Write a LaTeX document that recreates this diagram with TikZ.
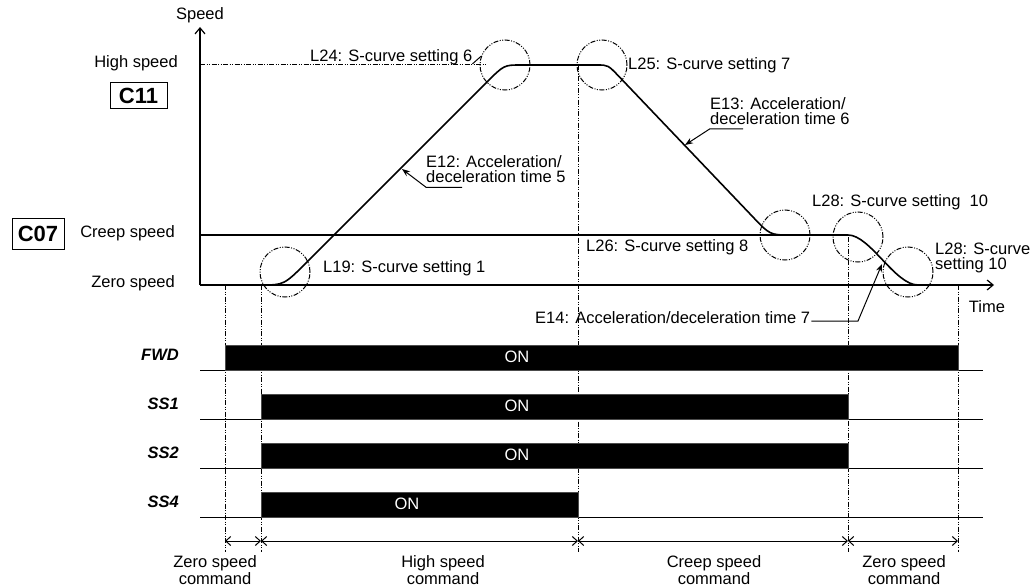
\documentclass[tikz,border=0pt]{standalone}
\usepackage{fontspec}
\setmainfont{Liberation Sans}
\usetikzlibrary{arrows.meta}
\begin{document}
\begin{tikzpicture}[x=1pt,y=-1pt,
  txt/.style={inner sep=0pt, font=\fontsize{16.5}{15}\selectfont},
  dd/.style={line width=1pt, dash pattern=on 5pt off 1.5pt on 1pt off 1.5pt on 1pt off 1.5pt},
  ax/.style={line width=1.2pt},
  bar/.style={fill=black, draw=black!70, line width=0.5pt},
  onlbl/.style={txt, text=white},
  sig/.style={inner sep=0pt, font=\fontsize{16.5}{15}\selectfont\bfseries\itshape, anchor=east},
  circ/.style={circle, draw, dd, minimum size=50pt, inner sep=0pt},
  lead/.style={line width=1pt},
  leadarrow/.style={lead, -{Stealth[length=8pt,width=6pt]}},
  dimline/.style={line width=1pt, {Straight Barb[length=5pt,width=9pt]}-{Straight Barb[length=5pt,width=9pt]}},
  axarrow/.style={ax, -{Straight Barb[length=6pt,width=10pt]}},
  codebox/.style={draw, line width=1pt, inner sep=0pt, font=\fontsize{22}{22}\selectfont\bfseries}
]
\useasboundingbox (0,0) rectangle (1034,586);

% axes
\coordinate (o) at (200,285);
\coordinate (ytop) at (200,27);
\coordinate (xend) at (994,285);
\draw[axarrow] (o) -- (ytop);
\draw[axarrow] (o) -- (xend);
\node[txt] (speed) at (200,15) {Speed};
\node[txt] (time) at (987,307) {Time};

% level labels
\node[txt,anchor=east] (hs) at (178,63) {High speed};
\node[codebox, minimum width=57pt, minimum height=25pt] (c11) at (138.5,95.5) {C11};
\node[txt,anchor=east] (cs) at (175,233) {Creep speed};
\node[codebox, minimum width=52pt, minimum height=31pt] (c07) at (38,233.5) {C07};
\node[txt,anchor=east] (zs) at (175,283) {Zero speed};

% level lines
\draw[dd] (200,65) -- (487,65);
\draw[line width=1.1pt] (200,235) -- (848,235);

% vertical dash-dot lines
\draw[dd] (225,285) -- (225,552);
\draw[dd] (261,285) -- (261,552);
\draw[dd] (578,65) -- (578,552);
\draw[dd] (848,237) -- (848,552);
\draw[dd] (958,285) -- (958,552);

% speed curve
\draw[line width=1.6pt] (261,285) .. controls (284,285) .. (307,262) -- (487,82)
  .. controls (504,65) .. (521,65) -- (597,65) .. controls (608,65) .. (619,76.5)
  -- (752,216) .. controls (770,235) .. (790,235) -- (848,235)
  .. controls (870,235) and (895,285) .. (918,285);

% S-curve circles
\node[circ] (c19) at (285,272) {};
\node[circ] (c24) at (505,65) {};
\node[circ] (c25) at (602,65) {};
\node[circ] (c26) at (785,235) {};
\node[circ] (c28a) at (858,237) {};
\node[circ] (c28b) at (908,272) {};

% labels
\node[txt,anchor=west] (l19) at (323,268) {L19: S-curve setting 1};
\node[txt,anchor=west] (l24) at (310,57) {L24: S-curve setting 6};
\draw[lead] ([yshift=1pt]l24.south east) -- (c24.160);
\node[txt,anchor=west] (l25) at (628,65) {L25: S-curve setting 7};
\node[txt,anchor=west] (l26) at (586,247) {L26: S-curve setting 8};
\node[txt,anchor=west] (l28a) at (812,202) {L28: S-curve setting\ \ 10};
\node[txt,anchor=west,align=left] (l28b) at (935,257.5) {L28: S-curve\\setting 10};

\node[txt,anchor=west,align=left] (e12) at (426,169.5) {E12: Acceleration/\\deceleration time 5};
\coordinate (e12tip) at (402,169);
\draw[leadarrow] ([xshift=36pt,yshift=-4pt]e12.south west) -- ([yshift=-4pt]e12.south west) -- (e12tip);

\node[txt,anchor=west,align=left] (e13) at (710,111) {E13: Acceleration/\\deceleration time 6};
\coordinate (e13tip) at (685,145);
\draw[leadarrow] ([xshift=33pt,yshift=-4pt]e13.south west) -- ([yshift=-4pt]e13.south west) -- (e13tip);

\node[txt,anchor=west] (e14) at (535,318) {E14: Acceleration/deceleration time 7};
\coordinate (e14k) at (858,321);
\coordinate (e14tip) at (882,264);
\draw[leadarrow] ([xshift=1pt,yshift=-3pt]e14.east) -- (e14k) -- (e14tip);

% timing rows
\draw[line width=1pt] (200,370) -- (983,370);
\draw[line width=1pt] (200,419) -- (983,419);
\draw[line width=1pt] (200,468) -- (983,468);
\draw[line width=1pt] (200,517) -- (983,517);
\draw[bar] (225,345) rectangle (958,370);
\draw[bar] (261,394) rectangle (848,419);
\draw[bar] (261,443) rectangle (848,468);
\draw[bar] (261,492) rectangle (578,517);
\node[onlbl] (on1) at (517,357) {ON};
\node[onlbl] (on2) at (517,406) {ON};
\node[onlbl] (on3) at (517,455) {ON};
\node[onlbl] (on4) at (407,504) {ON};
\node[sig] (fwd) at (179,355) {FWD};
\node[sig] (ss1) at (179,404) {SS1};
\node[sig] (ss2) at (179,453) {SS2};
\node[sig] (ss4) at (179,502) {SS4};

% dimension arrows
\coordinate (d1) at (225,541);
\coordinate (d2) at (261,541);
\coordinate (d3) at (578,541);
\coordinate (d4) at (848,541);
\coordinate (d5) at (958,541);
\draw[dimline] (d1) -- (d2);
\draw[dimline] (d2) -- (d3);
\draw[dimline] (d3) -- (d4);
\draw[dimline] (d4) -- (d5);

\node[txt,align=center] (zc1) at (215,570) {Zero speed\\command};
\node[txt,align=center] (hc) at (443,570) {High speed\\command};
\node[txt,align=center] (cc) at (714,570) {Creep speed\\command};
\node[txt,align=center] (zc2) at (904,570) {Zero speed\\command};
\end{tikzpicture}
\end{document}
